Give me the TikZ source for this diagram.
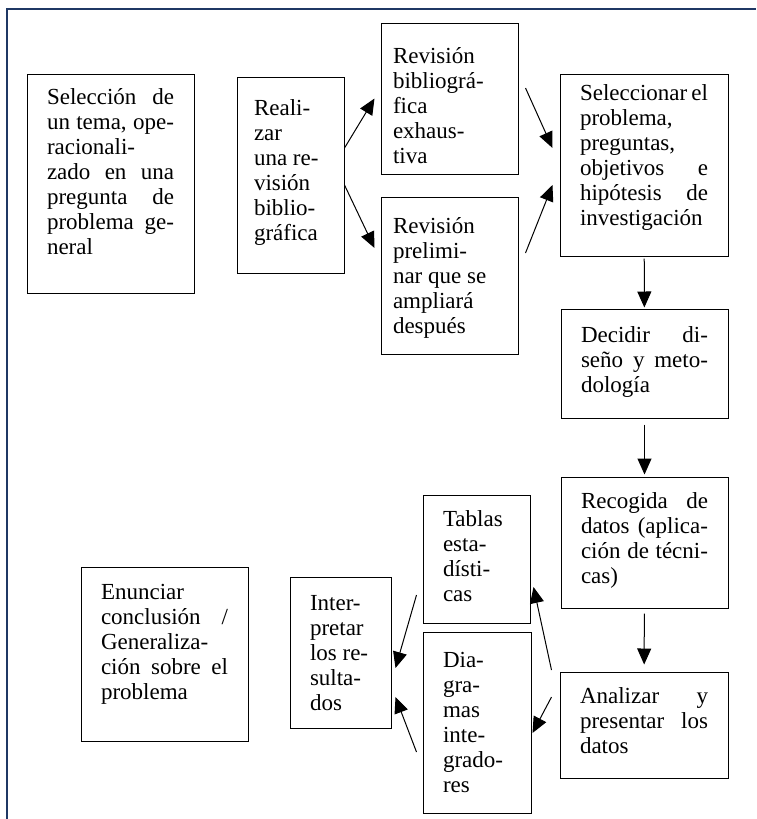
\documentclass[tikz,border=0pt]{standalone}
\usepackage{fontspec}
\setmainfont{Liberation Serif}
\usetikzlibrary{arrows.meta}
\definecolor{marco}{RGB}{31,56,100}
\tolerance=10000
\hyphenpenalty=10000

\begin{document}
\begin{tikzpicture}[x=1pt,y=-1pt,
  caja/.style={draw,line width=1pt,inner ysep=0pt,inner xsep=20pt,align=justify,font=\fontsize{23}{25}\selectfont},
  flecha/.style={line width=1pt,-{Triangle[length=16pt,width=14pt]}}]

\useasboundingbox (0,0) rectangle (756,819);
\draw[marco,line width=2.4pt] (7,819) -- (7,9) -- (756,9);

\node[caja,text width=127pt,text height=30pt,text depth=189pt] (sel) at (110.5,183.5) {Selección de\linebreak un tema, ope-\linebreak racionali-\\ zado en una\linebreak pregunta de\linebreak problema ge-\linebreak neral};
\node[caja,inner xsep=17pt,text width=73pt,text height=38pt,text depth=158pt] (real) at (290.5,175) {Reali-\\ zar\\ una re-\\ visión\\ biblio-\\ gráfica};
\node[caja,inner xsep=12pt,text width=113pt,text height=40pt,text depth=111pt] (rev1) at (449.5,98.5) {Revisión\\ bibliográ-\\ fica\\ exhaus-\\ tiva};
\node[caja,inner xsep=12pt,text width=113pt,text height=36pt,text depth=121pt] (rev2) at (449.5,275.5) {Revisión\\ prelimi-\\ nar que se\\ ampliará\\ después};
\node[caja,text width=128pt,text height=26pt,text depth=156pt] (selp) at (644,165) {Seleccionar el\linebreak problema,\\ preguntas,\\ objetivos e\linebreak hipótesis de\linebreak investigación};
\node[caja,text width=127pt,text height=33pt,text depth=76pt] (dec) at (644.5,363.5) {Decidir di-\linebreak seño y meto-\linebreak dología};
\node[caja,text width=127pt,text height=31pt,text depth=100pt] (rec) at (644.5,542.5) {Recogida de\linebreak datos (aplica-\linebreak ción de técni-\linebreak cas)};
\node[caja,text width=128pt,text height=31pt,text depth=75pt] (ana) at (644,725) {Analizar y\linebreak presentar los\linebreak datos};
\node[caja,text width=67pt,text height=31pt,text depth=97pt] (tab) at (476.5,559) {Tablas\\ esta-\\ dísti-\\ cas};
\node[caja,text width=68pt,text height=35pt,text depth=146pt] (dia) at (477,722.5) {Dia-\\ gra-\\ mas\\ inte-\\ grado-\\ res};
\node[caja,text width=61pt,text height=33pt,text depth=118pt] (int) at (340.5,652.5) {Inter-\\ pretar\\ los re-\\ sulta-\\ dos};
\node[caja,text width=127pt,text height=32pt,text depth=142pt] (enu) at (164.5,654) {Enunciar\\ conclusión /\linebreak Generaliza-\\ ción sobre el\linebreak problema};

\draw[flecha] ([yshift=27pt]real.east) -- ([xshift=-6pt]rev1.west);
\draw[flecha] ([yshift=-10pt]real.east) -- ([xshift=-6pt,yshift=27.5pt]rev2.west);
\draw[flecha] ([xshift=7pt,yshift=10.5pt]rev1.east) -- ([xshift=-7pt,yshift=17pt]selp.west);
\draw[flecha] ([xshift=7pt,yshift=22.5pt]rev2.east) -- ([xshift=-7pt,yshift=-20pt]selp.west);
\draw[flecha,shorten <=2pt,shorten >=1pt] (selp) -- (dec);
\draw[flecha,shorten <=6pt,shorten >=2pt] (dec) -- (rec);
\draw[flecha,shorten <=5pt,shorten >=7pt] (rec) -- (ana);
\draw[flecha] ([xshift=-8pt,yshift=55pt]ana.west) -- ([xshift=3pt,yshift=-28pt]tab.east);
\draw[flecha] ([xshift=-8pt,yshift=28pt]ana.west) -- ([xshift=1pt,yshift=-10.5pt]dia.east);
\draw[flecha] ([xshift=-6pt,yshift=-36pt]tab.west) -- ([xshift=4pt,yshift=-15.5pt]int.east);
\draw[flecha] ([xshift=-6pt,yshift=-29.5pt]dia.west) -- ([xshift=4pt,yshift=-44.5pt]int.east);
\end{tikzpicture}
\end{document}
